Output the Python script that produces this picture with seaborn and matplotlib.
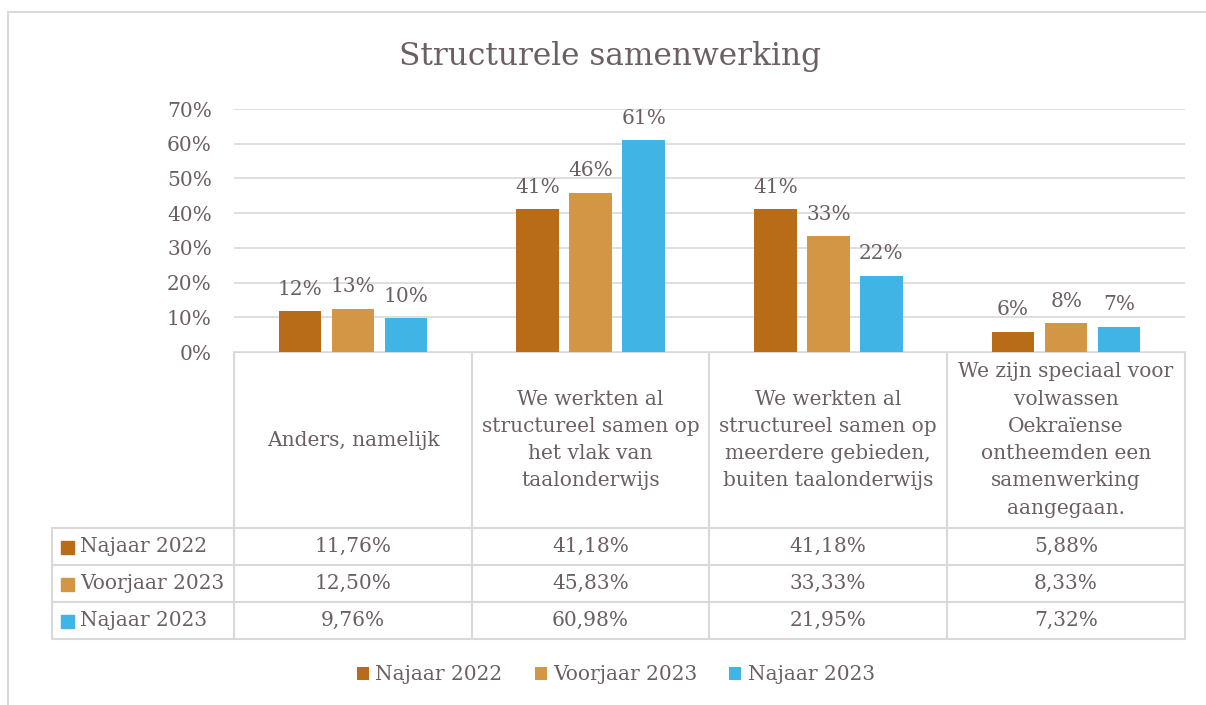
import numpy as np
import pandas as pd
import matplotlib
matplotlib.use("Agg")
import matplotlib.pyplot as plt
from matplotlib.patches import Rectangle
import seaborn as sns

# ==========================================
# DATA
# ==========================================

categories = [
    "Anders, namelijk",
    "We werkten al\nstructureel samen op\nhet vlak van\ntaalonderwijs",
    "We werkten al\nstructureel samen op\nmeerdere gebieden,\nbuiten taalonderwijs",
    "We zijn speciaal voor\nvolwassen\nOekraïense\nontheemden een\nsamenwerking\naangegaan.",
]
periods = ["Najaar 2022", "Voorjaar 2023", "Najaar 2023"]
najaar_2022 = [11.76, 41.18, 41.18, 5.88]
voorjaar_2023 = [12.50, 45.83, 33.33, 8.33]
najaar_2023 = [9.76, 60.98, 21.95, 7.32]
colors = ["#B96C17", "#D29645", "#41B4E6"]
y_ticks = [0, 10, 20, 30, 40, 50, 60, 70]

series = [najaar_2022, voorjaar_2023, najaar_2023]
rows = []
for p, vals in zip(periods, series):
    for c, v in zip(categories, vals):
        rows.append({"categorie": c, "periode": p, "waarde": v / 100})
df = pd.DataFrame(rows)

# ==========================================
# STYLE
# ==========================================

sns.set_style("white")
plt.rcParams["font.family"] = ["DejaVu Serif"]
TXT = "#6B5F63"
GRID = "#D9D9D9"
FS = 14.5
W, H = 1206, 705

fig = plt.figure(figsize=(W / 100, H / 100), dpi=100)

# plot area in pixel coords
px_l, px_r, px_top, px_bot = 234, 1185, 109, 352
ax = fig.add_axes([px_l / W, 1 - px_bot / H, (px_r - px_l) / W, (px_bot - px_top) / H])

sns.barplot(
    data=df, x="categorie", y="waarde", hue="periode",
    palette=colors, saturation=1, width=0.67, gap=0.2, ax=ax,
    edgecolor="none",
)

for cont, vals in zip(ax.containers, series):
    labels = [f"{int(np.floor(v + 0.5))}%" for v in vals]
    ax.bar_label(cont, labels=labels, padding=9, fontsize=FS, color=TXT)

ax.set_ylim(0, 0.7)
ax.set_yticks([t / 100 for t in y_ticks])
ax.set_yticklabels([f"{t}%" for t in y_ticks])
ax.tick_params(axis="y", length=0, pad=16, labelsize=FS, labelcolor=TXT)
ax.set_xticks([])
ax.set_xlabel("")
ax.set_ylabel("")
ax.set_xlim(-0.5, 3.5)
ax.grid(axis="y", color=GRID, linewidth=1.2)
ax.set_axisbelow(True)
for s in ax.spines.values():
    s.set_visible(False)

handles, labs = ax.get_legend_handles_labels()
ax.legend(
    handles, labs, loc="center", bbox_to_anchor=(0.5 + 13 / W, 1 - 675 / H),
    bbox_transform=fig.transFigure, ncol=3, frameon=False,
    handlelength=0.6, handleheight=0.6, handletextpad=0.3, columnspacing=1.6,
    fontsize=FS, labelcolor=TXT,
)

# ==========================================
# DATA TABLE (overlay in pixel coords)
# ==========================================

ov = fig.add_axes([0, 0, 1, 1], zorder=-1)
ov.set_xlim(0, W)
ov.set_ylim(H, 0)
ov.axis("off")

# outer chart border
ov.plot([8, W], [12, 12], color=GRID, lw=1.5)
ov.plot([8, 8], [12, H], color=GRID, lw=1.5)

col_x = [234, 472, 709, 947, 1185]
row_y = [352, 528, 565, 602, 639]
lc = "#D9D9D9"
ov.plot([234, 1185], [352, 352], color=lc, lw=1.5)
for y in row_y[1:]:
    ov.plot([52, 1185], [y, y], color=lc, lw=1.5)
for x in col_x:
    ov.plot([x, x], [352, 639], color=lc, lw=1.5)
ov.plot([52, 52], [528, 639], color=lc, lw=1.5)

for i, c in enumerate(categories):
    cx = (col_x[i] + col_x[i + 1]) / 2
    ov.text(cx, 440, c, ha="center", va="center", fontsize=FS, color=TXT,
            linespacing=1.55)

for r, (p, vals, col) in enumerate(zip(periods, series, colors)):
    cy = (row_y[r + 1] + row_y[r + 2]) / 2
    ov.add_patch(Rectangle((61, cy - 6), 13, 13, color=col))
    ov.text(80, cy, p, ha="left", va="center", fontsize=FS, color=TXT)
    for i, v in enumerate(vals):
        cx = (col_x[i] + col_x[i + 1]) / 2
        ov.text(cx, cy, f"{v:.2f}%".replace(".", ","), ha="center", va="center",
                fontsize=FS, color=TXT)

fig.text(610 / W, 1 - 57 / H, "Structurele samenwerking", ha="center", va="center",
         fontsize=22.5, color=TXT)

fig.savefig("out.png", dpi=100)
